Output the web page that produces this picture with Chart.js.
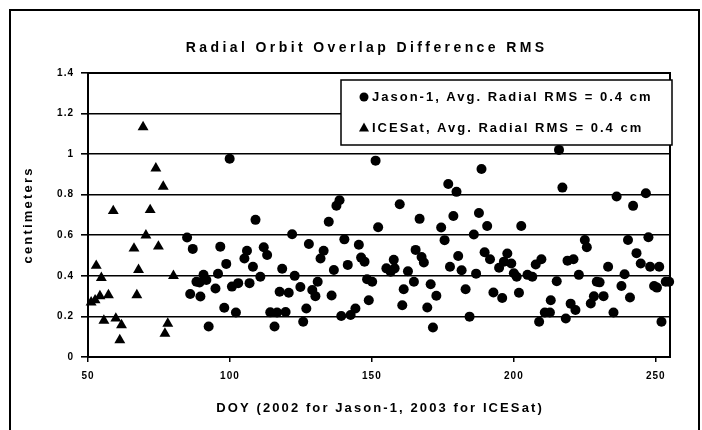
<!DOCTYPE html>
<html>
<head>
<meta charset="utf-8">
<script src="https://cdn.jsdelivr.net/npm/chart.js@4/dist/chart.umd.min.js"></script>
<style>
  html, body { margin: 0; padding: 0; background: #fff; }
  #wrap { width: 702px; height: 430px; }
</style>
</head>
<body>
<div id="wrap"><canvas id="overlapChart" width="702" height="430"></canvas></div>
<script>
// values
const jasonX = [84.9, 86.0, 86.9, 88.2, 89.3, 89.6, 90.7, 91.7, 92.5, 94.9, 95.8, 96.6, 98.0, 98.7, 99.9,
    100.7, 102.1, 102.9, 105.1, 106.0, 106.9, 108.1, 109.0, 110.7, 111.9, 113.1, 114.2, 115.7, 116.6, 117.5,
    118.4, 119.6, 120.7, 121.9, 122.8, 124.8, 125.8, 126.9, 127.8, 129.0, 130.1, 130.9, 131.9, 133.0, 134.8,
    135.8, 136.6, 137.5, 138.6, 139.2, 140.3, 141.5, 142.5, 144.2, 145.4, 146.2, 147.4, 148.3, 148.9, 150.1,
    151.3, 152.2, 155.1, 156.6, 157.7, 158.0, 159.8, 160.7, 161.2, 162.7, 164.8, 165.4, 166.8, 167.5, 168.3,
    169.5, 170.7, 171.5, 172.7, 174.4, 175.6, 176.9, 177.5, 178.7, 179.8, 180.4, 181.6, 183.0, 184.4, 185.9,
    186.7, 187.7, 188.6, 189.7, 190.6, 191.6, 192.8, 194.8, 195.9, 196.5, 197.7, 199.1, 200.0, 201.0, 201.8,
    202.6, 204.8, 206.5, 207.7, 208.9, 209.7, 210.9, 212.7, 213.0, 215.1, 215.9, 217.1, 218.3, 218.9, 220.0,
    221.0, 221.7, 222.9, 225.0, 225.7, 227.1, 228.2, 229.2, 230.2, 231.6, 233.2, 235.1, 236.2, 237.9, 239.0,
    240.2, 240.9, 242.0, 243.2, 244.7, 246.5, 247.4, 248.0, 249.4, 250.4, 251.2, 252.0, 253.5, 254.7];
const jasonY = [0.589, 0.311, 0.533, 0.371, 0.367, 0.298, 0.405, 0.38, 0.15, 0.338, 0.41, 0.544, 0.243, 0.459, 0.977,
    0.347, 0.219, 0.364, 0.486, 0.524, 0.364, 0.445, 0.676, 0.396, 0.541, 0.503, 0.22, 0.15, 0.219, 0.322,
    0.435, 0.222, 0.317, 0.605, 0.40, 0.345, 0.174, 0.239, 0.557, 0.33, 0.30, 0.371, 0.486, 0.524, 0.667,
    0.303, 0.429, 0.746, 0.773, 0.202, 0.58, 0.454, 0.207, 0.239, 0.553, 0.49, 0.47, 0.383, 0.28, 0.371,
    0.968, 0.64, 0.437, 0.42, 0.479, 0.437, 0.753, 0.255, 0.334, 0.423, 0.371, 0.528, 0.681, 0.493, 0.466,
    0.244, 0.359, 0.145, 0.302, 0.638, 0.576, 0.853, 0.445, 0.695, 0.814, 0.498, 0.428, 0.334, 0.199, 0.604,
    0.411, 0.71, 0.927, 0.516, 0.646, 0.482, 0.318, 0.44, 0.291, 0.47, 0.51, 0.461, 0.413, 0.396, 0.317,
    0.646, 0.405, 0.396, 0.456, 0.174, 0.482, 0.219, 0.219, 0.28, 0.373, 1.021, 0.835, 0.19, 0.475, 0.263,
    0.482, 0.232, 0.405, 0.577, 0.541, 0.264, 0.299, 0.371, 0.368, 0.30, 0.445, 0.219, 0.791, 0.35, 0.408,
    0.577, 0.293, 0.745, 0.512, 0.461, 0.807, 0.59, 0.445, 0.35, 0.342, 0.445, 0.174, 0.371, 0.371];

const iceX = [51.1, 52.5, 52.9, 54.2, 54.7, 55.6, 57.2, 58.9, 59.8, 61.2, 61.8, 66.2, 67.2, 67.8, 69.4,
    70.4, 71.9, 73.9, 74.8, 76.5, 77.1, 78.1, 80.1];
const iceY = [0.27, 0.28, 0.45, 0.30, 0.39, 0.18, 0.305, 0.72, 0.19, 0.083, 0.157, 0.535, 0.305, 0.43, 1.133,
    0.60, 0.725, 0.93, 0.545, 0.84, 0.115, 0.165, 0.40];

const chartTitle = 'Radial Orbit Overlap Difference RMS';
const xTitle = 'DOY (2002 for Jason-1, 2003 for ICESat)';
const yTitle = 'centimeters';
const seriesNames = ['Jason-1, Avg. Radial RMS = 0.4 cm', 'ICESat, Avg. Radial RMS = 0.4 cm'];

const toPoints = (xs, ys) => xs.map((x, i) => ({ x: x, y: ys[i] }));

const FONT = '"Liberation Sans", Arial, sans-serif';

function spacedText(ctx, text, x, y, size, spacing, align) {
    ctx.save();
    ctx.font = 'bold ' + size + 'px ' + FONT;
    ctx.letterSpacing = spacing + 'px';
    ctx.fillStyle = '#000';
    ctx.textBaseline = 'middle';
    ctx.textAlign = 'left';
    const w = ctx.measureText(text).width - spacing;
    let startX = x;
    if (align === 'center') startX = x - w / 2;
    ctx.fillText(text, startX, y);
    ctx.restore();
}

// frame, titles and legend box
const decorations = {
    id: 'decorations',
    beforeDraw(chart) {
        const ctx = chart.ctx;
        ctx.save();
        ctx.fillStyle = '#fff';
        ctx.fillRect(0, 0, chart.width, chart.height);
        ctx.restore();
        ctx.letterSpacing = '1px';
    },
    afterDatasetsDraw(chart) {
        const ctx = chart.ctx;
        const a = chart.chartArea;
        ctx.save();
        ctx.strokeStyle = '#000';
        ctx.lineWidth = 2;
        ctx.strokeRect(a.left, a.top, a.right - a.left, a.bottom - a.top);

        // outer figure frame
        ctx.beginPath();
        ctx.moveTo(10, 432);
        ctx.lineTo(10, 10);
        ctx.lineTo(699, 10);
        ctx.lineTo(699, 432);
        ctx.stroke();

        // legend box
        const bx = 341, by = 80, bw = 331, bh = 65;
        ctx.fillStyle = '#fff';
        ctx.fillRect(bx, by, bw, bh);
        ctx.lineWidth = 1.5;
        ctx.strokeRect(bx, by, bw, bh);
        ctx.fillStyle = '#000';
        ctx.beginPath();
        ctx.arc(364, 97, 4.5, 0, Math.PI * 2);
        ctx.fill();
        ctx.beginPath();
        ctx.moveTo(364, 122.5);
        ctx.lineTo(369, 131.5);
        ctx.lineTo(359, 131.5);
        ctx.closePath();
        ctx.fill();
        ctx.restore();

        spacedText(ctx, chart.data.datasets[0].label, 372, 97, 13, 2, 'left');
        spacedText(ctx, chart.data.datasets[1].label, 372, 128, 13, 2, 'left');

        spacedText(ctx, chartTitle, 365, 48, 14, 3.4, 'center');
        spacedText(ctx, xTitle, (a.left + a.right) / 2, 408, 13, 2.1, 'center');

        ctx.save();
        ctx.translate(28, (a.top + a.bottom) / 2 + 1);
        ctx.rotate(-Math.PI / 2);
        spacedText(ctx, yTitle, 0, 0, 13, 2.2, 'center');
        ctx.restore();
    }
};

const ctx = document.getElementById('overlapChart').getContext('2d');
const overlapChart = new Chart(ctx, {
    type: 'scatter',
    data: {
        datasets: [{
            label: seriesNames[0],
            data: toPoints(jasonX, jasonY),
            pointStyle: 'circle',
            pointRadius: 5,
            backgroundColor: '#000',
            borderColor: '#000',
            borderWidth: 0,
            clip: 8
        }, {
            label: seriesNames[1],
            data: toPoints(iceX, iceY),
            pointStyle: 'triangle',
            pointRadius: 6.3,
            backgroundColor: '#000',
            borderColor: '#000',
            borderWidth: 0,
            clip: 8
        }]
    },
    options: {
        responsive: false,
        animation: false,
        layout: { padding: { top: 73, right: 32, left: 0, bottom: 0 } },
        plugins: {
            legend: { display: false },
            title: { display: false },
            tooltip: { enabled: false }
        },
        scales: {
            x: {
                type: 'linear',
                min: 50,
                max: 255,
                afterFit: (scale) => { scale.height = 73; },
                ticks: {
                    stepSize: 50,
                    includeBounds: false,
                    color: '#000',
                    padding: 8,
                    maxRotation: 0,
                    font: { family: FONT, size: 10, weight: 'bold' }
                },
                grid: { drawOnChartArea: false, drawTicks: true, tickLength: 5, color: '#000', lineWidth: 1.5 },
                border: { display: true, color: '#000', width: 2 }
            },
            y: {
                min: 0,
                max: 1.4,
                afterFit: (scale) => { scale.width = 88; },
                ticks: {
                    stepSize: 0.2,
                    color: '#000',
                    padding: 7,
                    font: { family: FONT, size: 10, weight: 'bold' },
                    callback: (v) => String(Math.round(v * 10) / 10)
                },
                grid: { color: '#000', lineWidth: 1.6, tickLength: 7 },
                border: { display: true, color: '#000', width: 2 }
            }
        }
    },
    plugins: [decorations]
});
</script>
</body>
</html>
